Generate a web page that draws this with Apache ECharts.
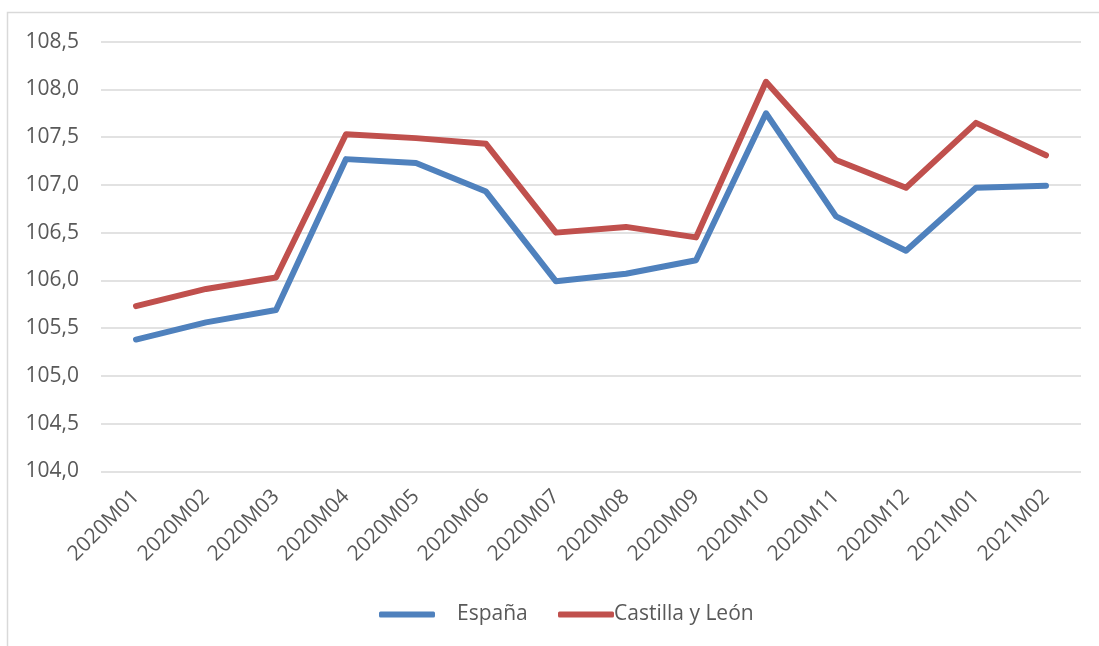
<!DOCTYPE html>
<html>
<head>
<meta charset="utf-8">
<script src="https://cdn.jsdelivr.net/npm/echarts@6/dist/echarts.min.js"></script>
<style>
    html, body { margin: 0; padding: 0; background: #fff; }
    #chart { width: 1099px; height: 646px; }
</style>
</head>
<body>
<div id="chart"></div>
<script>
    let months = ['2020M01', '2020M02', '2020M03', '2020M04', '2020M05', '2020M06', '2020M07',
        '2020M08', '2020M09', '2020M10', '2020M11', '2020M12', '2021M01', '2021M02'];
    let espana = [105.38, 105.56, 105.69, 107.27, 107.23, 106.93, 105.99,
        106.07, 106.21, 107.75, 106.67, 106.31, 106.97, 106.99];
    let castilla = [105.73, 105.91, 106.03, 107.53, 107.49, 107.43, 106.50,
        106.56, 106.45, 108.08, 107.26, 106.97, 107.65, 107.31];

    let font = "'Open Sans', sans-serif";
    let textColor = '#595959';

    let myChart = echarts.init(document.getElementById('chart'));
    myChart.setOption({
        backgroundColor: '#fff',
        animation: false,
        textStyle: { fontFamily: font },
        // outer frame, cut off at right and bottom like the original
        graphic: [{
            type: 'rect',
            shape: { x: 7.5, y: 12.5, width: 1200, height: 800 },
            style: { fill: 'none', stroke: '#d9d9d9', lineWidth: 1.5 },
            silent: true
        }],
        grid: { left: 101, right: 18, top: 41.7, bottom: 174.7 },
        legend: [{
            left: 374,
            top: 599,
            itemWidth: 56,
            itemHeight: 6,
            icon: 'roundRect',
            data: ['España'],
            textStyle: { color: textColor, fontSize: 21, fontFamily: font, padding: [0, 0, 0, 17] }
        }, {
            left: 553,
            top: 599,
            itemWidth: 56,
            itemHeight: 6,
            icon: 'roundRect',
            data: ['Castilla y León'],
            textStyle: { color: textColor, fontSize: 21, fontFamily: font, padding: [0, 0, 0, -5] }
        }],
        xAxis: {
            type: 'category',
            data: months,
            boundaryGap: true,
            axisLine: { show: false },
            axisTick: { show: false },
            axisLabel: {
                rotate: 45,
                margin: 22,
                interval: 0,
                color: textColor,
                fontSize: 21,
                fontFamily: font
            }
        },
        yAxis: {
            type: 'value',
            min: 104,
            max: 108.5,
            interval: 0.5,
            axisLine: { show: false },
            axisTick: { show: false },
            splitLine: { lineStyle: { color: '#d9d9d9', width: 1.5 } },
            axisLabel: {
                margin: 22,
                color: textColor,
                fontSize: 21,
                fontFamily: font,
                formatter: function (v) { return v.toFixed(1).replace('.', ','); }
            }
        },
        series: [{
            name: 'España',
            type: 'line',
            data: espana,
            symbol: 'none',
            color: '#4f81bd',
            lineStyle: { width: 6, color: '#4f81bd', cap: 'round', join: 'round' }
        }, {
            name: 'Castilla y León',
            type: 'line',
            data: castilla,
            symbol: 'none',
            color: '#c0504d',
            lineStyle: { width: 6, color: '#c0504d', cap: 'round', join: 'round' }
        }]
    });
</script>
</body>
</html>
